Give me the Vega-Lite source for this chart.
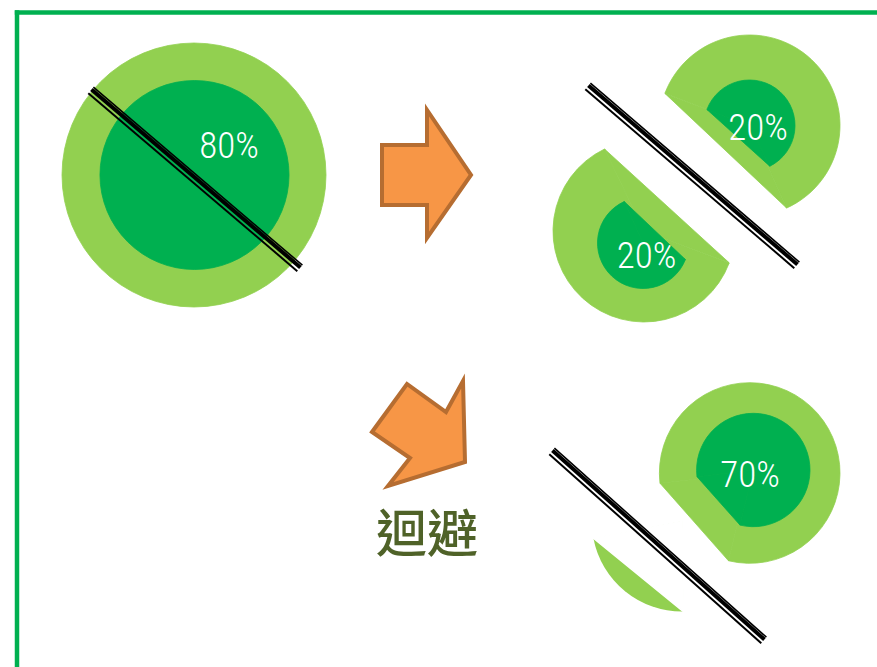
{
  "$schema": "https://vega.github.io/schema/vega-lite/v6.json",
  "width": 877,
  "height": 667,
  "autosize": "none",
  "padding": 0,
  "background": "white",
  "config": {"view": {"stroke": null}},
  "datasets": {
    "frame": [
      {"x": 14.8, "y": 12.5, "x2": 877, "y2": 12.5},
      {"x": 17, "y": 10.3, "x2": 17, "y2": 667}
    ],
    "discs": [
      {"id": "A", "tone": "light", "cx": 194, "cy": 175, "r": 132, "t1": 0, "t2": 360},
      {"id": "B", "tone": "light", "cx": 749.5, "cy": 125.5, "r": 90.5, "t1": -69.2, "t2": 155.8},
      {"id": "C", "tone": "light", "cx": 644, "cy": 231, "r": 91, "t1": 110.6, "t2": 334.3},
      {"id": "D", "tone": "light", "cx": 749.7, "cy": 473, "r": 90.3, "t1": -96.5, "t2": 193.6},
      {"id": "E", "tone": "sliver", "cx": 682.1, "cy": 521.3, "r": 90.3, "t1": 179.2, "t2": 259.2},
      {"id": "A", "tone": "dark", "cx": 194.5, "cy": 175, "r": 94.5, "t1": 0, "t2": 360},
      {"id": "B", "tone": "dark", "cx": 749.5, "cy": 125.5, "r": 45.5, "t1": -69.4, "t2": 153.5},
      {"id": "C", "tone": "dark", "cx": 643, "cy": 243, "r": 45.5, "t1": 111.3, "t2": 335.6},
      {"id": "D", "tone": "dark", "cx": 753.3, "cy": 470, "r": 56.7, "t1": -96.75, "t2": 193.6}
    ],
    "polys": [
      {"shape": "B-light", "tone": "light", "i": 0, "x": 749.5, "y": 125.5},
      {"shape": "B-light", "tone": "light", "i": 1, "x": 664.9, "y": 93.4},
      {"shape": "B-light", "tone": "light", "i": 2, "x": 786.6, "y": 208},
      {"shape": "C-light", "tone": "light", "i": 0, "x": 644, "y": 231},
      {"shape": "C-light", "tone": "light", "i": 1, "x": 729.2, "y": 262.8},
      {"shape": "C-light", "tone": "light", "i": 2, "x": 604.5, "y": 149},
      {"shape": "D-light", "tone": "light", "i": 0, "x": 749.7, "y": 473},
      {"shape": "D-light", "tone": "light", "i": 1, "x": 660, "y": 483.2},
      {"shape": "D-light", "tone": "light", "i": 2, "x": 728.5, "y": 560.8},
      {"shape": "E-cut", "tone": "white", "i": 0, "x": 682.1, "y": 521.3},
      {"shape": "E-cut", "tone": "white", "i": 1, "x": 683.4, "y": 611.6},
      {"shape": "E-cut", "tone": "white", "i": 2, "x": 593.4, "y": 538.2},
      {"shape": "B-dark", "tone": "dark", "i": 0, "x": 749.5, "y": 125.5},
      {"shape": "B-dark", "tone": "dark", "i": 1, "x": 706.9, "y": 109.5},
      {"shape": "B-dark", "tone": "dark", "i": 2, "x": 769.8, "y": 166.2},
      {"shape": "C-dark", "tone": "dark", "i": 0, "x": 643, "y": 243},
      {"shape": "C-dark", "tone": "dark", "i": 1, "x": 685.4, "y": 259.5},
      {"shape": "C-dark", "tone": "dark", "i": 2, "x": 624.2, "y": 201.5},
      {"shape": "D-dark", "tone": "dark", "i": 0, "x": 753.3, "y": 470},
      {"shape": "D-dark", "tone": "dark", "i": 1, "x": 697, "y": 476.7},
      {"shape": "D-dark", "tone": "dark", "i": 2, "x": 740, "y": 525.1},
      {"shape": "arrowRight", "tone": "orange", "i": 0, "x": 382, "y": 145},
      {"shape": "arrowRight", "tone": "orange", "i": 1, "x": 427, "y": 145},
      {"shape": "arrowRight", "tone": "orange", "i": 2, "x": 427, "y": 110},
      {"shape": "arrowRight", "tone": "orange", "i": 3, "x": 471, "y": 175},
      {"shape": "arrowRight", "tone": "orange", "i": 4, "x": 427, "y": 238},
      {"shape": "arrowRight", "tone": "orange", "i": 5, "x": 427, "y": 205},
      {"shape": "arrowRight", "tone": "orange", "i": 6, "x": 382, "y": 205},
      {"shape": "arrowDown", "tone": "orange", "i": 0, "x": 372, "y": 432},
      {"shape": "arrowDown", "tone": "orange", "i": 1, "x": 407, "y": 384},
      {"shape": "arrowDown", "tone": "orange", "i": 2, "x": 446, "y": 412},
      {"shape": "arrowDown", "tone": "orange", "i": 3, "x": 463, "y": 381},
      {"shape": "arrowDown", "tone": "orange", "i": 4, "x": 465, "y": 462},
      {"shape": "arrowDown", "tone": "orange", "i": 5, "x": 388, "y": 486},
      {"shape": "arrowDown", "tone": "orange", "i": 6, "x": 410, "y": 458}
    ],
    "stripes": [
      {"x": 91, "y": 90, "x2": 300, "y2": 268},
      {"x": 588, "y": 86, "x2": 797, "y2": 265},
      {"x": 552, "y": 451, "x2": 764, "y2": 640}
    ],
    "labels": [
      {"label": "80%", "x": 229, "y": 158, "kind": "pct"},
      {"label": "20%", "x": 758, "y": 140, "kind": "pct"},
      {"label": "20%", "x": 646.5, "y": 268.3, "kind": "pct"},
      {"label": "70%", "x": 750, "y": 486.7, "kind": "pct"},
      {"label": "迴避", "x": 427, "y": 552, "kind": "word"}
    ]
  },
  "layer": [
    {
      "data": {"name": "frame"},
      "mark": {"type": "rule", "color": "#00B050", "strokeWidth": 4.5, "strokeCap": "butt"},
      "encoding": {
        "x": {"field": "x", "type": "quantitative", "scale": {"domain": [0, 877], "range": [0, 877], "nice": false, "zero": false}, "axis": null},
        "y": {"field": "y", "type": "quantitative", "scale": {"domain": [0, 667], "range": [0, 667], "nice": false, "zero": false}, "axis": null},
        "x2": {"field": "x2"},
        "y2": {"field": "y2"}
      }
    },
    {
      "data": {"name": "discs"},
      "transform": [{"filter": "datum.tone === 'light'"}],
      "mark": {"type": "arc", "fill": "#92D050", "stroke": "#92D050", "strokeWidth": 0.8},
      "encoding": {
        "x": {"field": "cx", "type": "quantitative"},
        "y": {"field": "cy", "type": "quantitative"},
        "theta": {"field": "t1", "type": "quantitative", "stack": null, "scale": {"domain": [0, 360], "range": [0, 6.283185307179586], "zero": false, "nice": false}},
        "theta2": {"field": "t2"},
        "radius": {"field": "r", "type": "quantitative", "scale": {"type": "linear", "domain": [0, 100], "range": [0, 100], "zero": true, "nice": false}}
      }
    },
    {
      "data": {"name": "discs"},
      "transform": [{"filter": "datum.tone === 'sliver'"}],
      "mark": {"type": "arc", "fill": "#92D050"},
      "encoding": {
        "x": {"field": "cx", "type": "quantitative"},
        "y": {"field": "cy", "type": "quantitative"},
        "theta": {"field": "t1", "type": "quantitative", "stack": null},
        "theta2": {"field": "t2"},
        "radius": {"field": "r", "type": "quantitative"}
      }
    },
    {
      "data": {"name": "polys"},
      "transform": [{"filter": "datum.tone === 'white'"}],
      "mark": {"type": "line", "interpolate": "linear-closed", "fill": "white", "stroke": "white", "strokeWidth": 1.5},
      "encoding": {
        "x": {"field": "x", "type": "quantitative"},
        "y": {"field": "y", "type": "quantitative"},
        "detail": {"field": "shape"},
        "order": {"field": "i", "type": "quantitative"}
      }
    },
    {
      "data": {"name": "polys"},
      "transform": [{"filter": "datum.tone === 'light'"}],
      "mark": {"type": "line", "interpolate": "linear-closed", "fill": "#92D050", "stroke": "#92D050", "strokeWidth": 0.8},
      "encoding": {
        "x": {"field": "x", "type": "quantitative"},
        "y": {"field": "y", "type": "quantitative"},
        "detail": {"field": "shape"},
        "order": {"field": "i", "type": "quantitative"}
      }
    },
    {
      "data": {"name": "discs"},
      "transform": [{"filter": "datum.tone === 'dark'"}],
      "mark": {"type": "arc", "fill": "#00B050", "stroke": "#00B050", "strokeWidth": 0.8},
      "encoding": {
        "x": {"field": "cx", "type": "quantitative"},
        "y": {"field": "cy", "type": "quantitative"},
        "theta": {"field": "t1", "type": "quantitative", "stack": null},
        "theta2": {"field": "t2"},
        "radius": {"field": "r", "type": "quantitative"}
      }
    },
    {
      "data": {"name": "polys"},
      "transform": [{"filter": "datum.tone === 'dark'"}],
      "mark": {"type": "line", "interpolate": "linear-closed", "fill": "#00B050", "stroke": "#00B050", "strokeWidth": 0.8},
      "encoding": {
        "x": {"field": "x", "type": "quantitative"},
        "y": {"field": "y", "type": "quantitative"},
        "detail": {"field": "shape"},
        "order": {"field": "i", "type": "quantitative"}
      }
    },
    {
      "data": {"name": "polys"},
      "transform": [{"filter": "datum.tone === 'orange'"}],
      "mark": {"type": "line", "interpolate": "linear-closed", "fill": "#F79646", "stroke": "#B66D31", "strokeWidth": 4, "strokeJoin": "miter"},
      "encoding": {
        "x": {"field": "x", "type": "quantitative"},
        "y": {"field": "y", "type": "quantitative"},
        "detail": {"field": "shape"},
        "order": {"field": "i", "type": "quantitative"}
      }
    },
    {
      "data": {"name": "stripes"},
      "mark": {"type": "rule", "color": "black", "strokeWidth": 4, "strokeCap": "butt", "xOffset": 0.45, "x2Offset": 0.45, "yOffset": -0.53, "y2Offset": -0.53},
      "encoding": {
        "x": {"field": "x", "type": "quantitative"},
        "y": {"field": "y", "type": "quantitative"},
        "x2": {"field": "x2"},
        "y2": {"field": "y2"}
      }
    },
    {
      "data": {"name": "stripes"},
      "mark": {"type": "rule", "color": "black", "strokeWidth": 1.6, "strokeCap": "butt", "xOffset": 2.4, "x2Offset": 2.4, "yOffset": -2.8, "y2Offset": -2.8},
      "encoding": {
        "x": {"field": "x", "type": "quantitative"},
        "y": {"field": "y", "type": "quantitative"},
        "x2": {"field": "x2"},
        "y2": {"field": "y2"}
      }
    },
    {
      "data": {"name": "stripes"},
      "mark": {"type": "rule", "color": "black", "strokeWidth": 2, "strokeCap": "butt", "xOffset": -2.7, "x2Offset": -2.7, "yOffset": 3.15, "y2Offset": 3.15},
      "encoding": {
        "x": {"field": "x", "type": "quantitative"},
        "y": {"field": "y", "type": "quantitative"},
        "x2": {"field": "x2"},
        "y2": {"field": "y2"}
      }
    },
    {
      "data": {"name": "labels"},
      "transform": [{"filter": "datum.kind === 'pct'"}],
      "mark": {"type": "text", "color": "white", "font": "Roboto Condensed, Liberation Sans Narrow, Noto Sans ExtraCondensed, Noto Sans Condensed, DejaVu Sans Condensed, sans-serif", "fontSize": 37, "fontWeight": 300, "align": "center", "baseline": "alphabetic"},
      "encoding": {
        "x": {"field": "x", "type": "quantitative"},
        "y": {"field": "y", "type": "quantitative"},
        "text": {"field": "label"}
      }
    },
    {
      "data": {"name": "labels"},
      "transform": [{"filter": "datum.kind === 'word'"}],
      "mark": {"type": "text", "color": "#4F6228", "font": "Noto Sans CJK TC", "fontSize": 51, "fontWeight": 500, "align": "center", "baseline": "alphabetic"},
      "encoding": {
        "x": {"field": "x", "type": "quantitative"},
        "y": {"field": "y", "type": "quantitative"},
        "text": {"field": "label"}
      }
    }
  ]
}
